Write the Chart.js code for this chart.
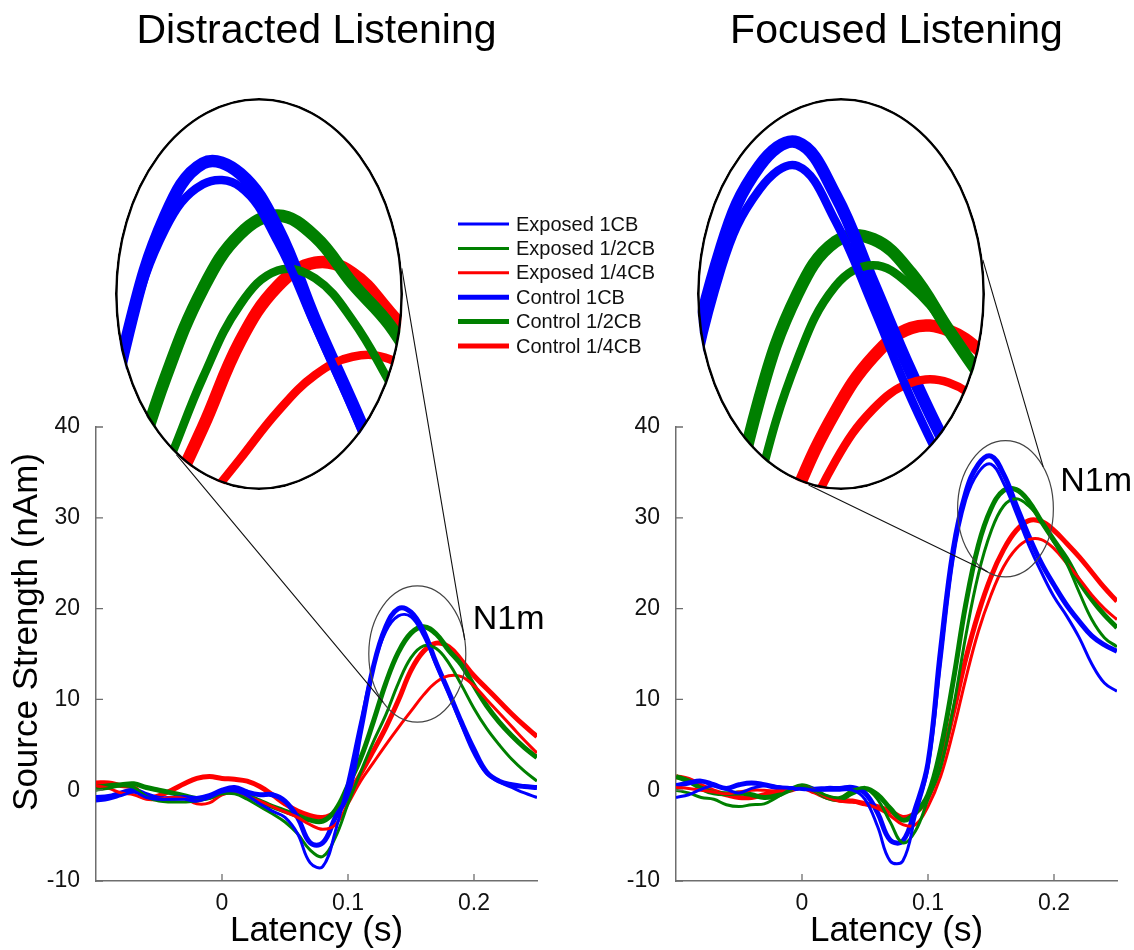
<!DOCTYPE html>
<html>
<head>
<meta charset="utf-8">
<script src="https://cdn.jsdelivr.net/npm/chart.js@4.4.1/dist/chart.umd.min.js"></script>
<style>
  body { margin: 0; background: #fff; }
  #wrap { position: relative; width: 1134px; height: 950px; background: #fff; }
  #wrap canvas { position: absolute; }
  .inset { clip-path: ellipse(50% 50% at 50% 50%); }
</style>
</head>
<body>
<div id="wrap">
  <canvas id="leftChart" width="1134" height="950" style="left:0;top:0"></canvas>
  <canvas id="rightChart" width="1134" height="950" style="left:0;top:0"></canvas>
  <canvas id="leftInset" class="inset" width="288" height="392" style="left:115px;top:98px"></canvas>
  <canvas id="rightInset" class="inset" width="288" height="392" style="left:697px;top:98px"></canvas>
</div>
<script>
// latency in seconds, one sample every 10 ms
const latency = [-0.10, -0.09, -0.08, -0.07, -0.06, -0.05, -0.04, -0.03, -0.02, -0.01,
                 0.00, 0.01, 0.02, 0.03, 0.04, 0.05, 0.06, 0.07, 0.08, 0.09,
                 0.10, 0.11, 0.12, 0.13, 0.14, 0.15, 0.16, 0.17, 0.18, 0.19,
                 0.20, 0.21, 0.22, 0.23, 0.24, 0.25];

const xTickValues = [0, 0.1, 0.2];
const yTickStep = 10;

// Distracted listening (nAm)
const distractedExposed1CB = [-1.2, -1.0, -0.6, -0.2, -0.8, -1.0, -1.0, -1.0, -1.2, -0.8,
  -0.2, -0.1, -0.6, -1.5, -2.3, -3.0, -4.8, -8.0, -8.4, -4.5,
  1.0, 7.5, 13.5, 17.5, 19.2, 19.1, 17.0, 13.8, 10.6, 7.2,
  4.0, 1.8, 0.9, 0.3, -0.3, -0.8];
const distractedExposedHalfCB = [0.0, 0.2, 0.5, 0.3, -0.7, -1.2, -1.3, -1.3, -1.2, -0.9,
  -0.4, -0.4, -1.0, -1.8, -2.6, -3.5, -4.8, -6.6, -7.3, -5.2,
  -1.5, 2.0, 5.3, 8.3, 11.8, 14.6, 15.9, 15.6, 14.0, 11.6,
  9.0, 6.8, 5.0, 3.4, 2.1, 1.0];
const distractedExposedQuarterCB = [0.5, 0.2, -0.3, -0.5, -1.0, -1.0, -0.8, -0.9, -1.5, -1.4,
  -0.5, -0.3, -0.7, -1.2, -1.8, -2.4, -3.0, -3.8, -4.3, -3.8,
  -1.5, 1.0, 3.0, 5.0, 6.9, 8.7, 10.5, 11.9, 12.6, 12.5,
  11.5, 10.0, 8.5, 7.0, 5.5, 4.1];
const distractedControl1CB = [-0.8, -0.7, -0.3, 0.0, -0.5, -0.9, -0.9, -0.8, -0.9, -0.6,
  0.0, 0.3, -0.2, -0.5, -0.5, -1.2, -3.0, -5.8, -5.8, -3.0,
  -0.5, 6.5, 13.5, 18.0, 20.0, 19.6, 17.5, 14.0, 10.8, 7.5,
  4.5, 2.0, 1.0, 0.6, 0.4, 0.3];
const distractedControlHalfCB = [0.3, 0.5, 0.6, 0.7, 0.3, 0.0, -0.3, -0.6, -0.9, -0.8,
  -0.3, -0.2, -0.6, -1.2, -1.8, -2.3, -2.8, -3.3, -3.4, -2.2,
  0.5, 3.5, 7.5, 11.8, 15.2, 17.3, 18.0, 17.2, 15.4, 13.8,
  11.5, 9.3, 7.5, 6.0, 4.7, 3.6];
const distractedControlQuarterCB = [0.8, 0.8, 0.5, 0.3, -0.8, -0.6, 0.0, 0.7, 1.3, 1.5,
  1.3, 1.2, 1.0, 0.4, -0.5, -1.5, -2.3, -2.8, -3.0, -2.4,
  -0.5, 1.8, 4.3, 6.9, 9.9, 13.2, 15.3, 16.2, 15.8, 14.3,
  12.6, 11.2, 9.8, 8.4, 7.1, 5.9];

// Focused listening (nAm)
const focusedExposed1CB = [-0.8, -0.5, 0.1, 0.5, 0.1, -0.3, 0.2, 0.5, 0.4, 0.2,
  0.2, 0.0, 0.0, 0.0, 0.0, -1.0, -4.0, -7.8, -7.8, -2.8,
  2.5, 14.0, 25.5, 32.0, 35.0, 35.9, 33.8, 30.5, 27.0, 24.0,
  21.3, 19.2, 16.8, 13.9, 11.8, 10.9];
const focusedExposedHalfCB = [0.0, -0.3, -0.8, -1.0, -1.6, -1.8, -1.6, -1.5, -0.8, 0.0,
  0.4, 0.0, -0.6, -0.8, 0.0, 0.2, -1.0, -3.5, -5.8, -4.5,
  -1.0, 2.5, 9.0, 17.0, 23.8, 28.5, 31.3, 32.1, 31.3, 29.6,
  27.3, 25.0, 21.8, 18.8, 16.8, 15.8];
const focusedExposedQuarterCB = [0.3, 0.2, 0.0, -0.2, -0.4, -0.2, 0.0, 0.0, -0.1, 0.0,
  0.4, 0.0, -0.8, -1.2, -1.3, -1.5, -2.0, -2.8, -3.8, -3.8,
  -1.8, 1.5, 6.5, 12.3, 17.5, 21.5, 24.6, 26.6, 27.6, 27.6,
  26.6, 25.0, 23.3, 21.5, 20.0, 18.8];
const focusedControl1CB = [0.5, 0.8, 1.0, 0.6, 0.2, 0.6, 0.8, 0.6, 0.3, 0.2,
  0.2, 0.1, 0.2, 0.2, 0.3, -0.3, -2.5, -5.5, -5.6, -2.0,
  3.0, 15.5, 26.5, 32.8, 35.9, 36.8, 34.8, 31.4, 28.0, 25.0,
  22.6, 20.4, 18.6, 17.0, 16.0, 15.3];
const focusedControlHalfCB = [1.5, 1.0, 0.2, -0.3, -0.4, -0.3, -0.5, -0.8, -0.6, 0.0,
  0.5, 0.0, -0.8, -1.0, -0.3, 0.2, -0.5, -2.0, -3.3, -2.5,
  -0.5, 4.5, 12.0, 20.5, 27.0, 31.0, 33.0, 33.1, 31.8, 29.6,
  27.5, 25.5, 23.0, 21.0, 19.3, 17.9];
const focusedControlQuarterCB = [1.5, 1.2, 0.5, -0.1, -0.5, -0.8, -0.8, -0.5, -0.2, 0.0,
  0.3, -0.2, -0.8, -1.1, -1.2, -1.5, -1.8, -2.3, -3.0, -2.5,
  -0.8, 3.0, 8.5, 14.5, 19.5, 23.5, 26.5, 28.6, 29.7, 29.6,
  28.6, 27.2, 25.7, 24.0, 22.3, 20.8];

const seriesLabels = ['Exposed 1CB', 'Exposed 1/2CB', 'Exposed 1/4CB', 'Control 1CB', 'Control 1/2CB', 'Control 1/4CB'];
const seriesColors = ['#0000ff', '#008000', '#ff0000', '#0000ff', '#008000', '#ff0000'];
const mainWidths = [3, 3, 3, 5, 5, 5];
const insetWidths = [8.5, 8.5, 8.5, 12.5, 12.5, 12.5];

const distracted = [distractedExposed1CB, distractedExposedHalfCB, distractedExposedQuarterCB,
                    distractedControl1CB, distractedControlHalfCB, distractedControlQuarterCB];
const focused = [focusedExposed1CB, focusedExposedHalfCB, focusedExposedQuarterCB,
                 focusedControl1CB, focusedControlHalfCB, focusedControlQuarterCB];

const FONT = "'Liberation Sans', Arial, Helvetica, sans-serif";
const axisColor = '#6e6e6e';

// zoom regions (data units) and where their magnified copy sits (pixels)
const leftPanel = {
  title: 'Distracted Listening',
  yTitle: 'Source Strength (nAm)',
  zoom: { x: 0.155, y: 15.0, rx: 0.0385, ry: 7.5 },
  big: { cx: 259, cy: 294, rx: 144, ry: 196 },
  links: [[125, 135], [-7.5, -12]],
  n1m: { x: 0.199, y: 17.8 },
  legend: true
};
const rightPanel = {
  title: 'Focused Listening',
  yTitle: null,
  zoom: { x: 0.1615, y: 31.0, rx: 0.038, ry: 7.5 },
  big: { cx: 841, cy: 294, rx: 144, ry: 196 },
  links: [[103, 112], [-10, -38]],
  n1m: { x: 0.205, y: 32.9 },
  legend: false
};

function toDatasets(seriesList, widths) {
  return seriesList.map((vals, i) => ({
    label: seriesLabels[i],
    data: latency.map((t, k) => ({ x: t, y: vals[k] })),
    borderColor: seriesColors[i],
    borderWidth: widths[i],
    pointRadius: 0,
    tension: 0.4,
    fill: false
  }));
}

// MATLAB style ticks pointing into the plot
const inwardTicks = {
  id: 'inwardTicks',
  afterDraw(chart) {
    const { ctx, chartArea, scales: { x, y } } = chart;
    ctx.save();
    ctx.strokeStyle = axisColor;
    ctx.lineWidth = 1.3;
    ctx.beginPath();
    x.ticks.forEach(t => {
      const px = x.getPixelForValue(t.value);
      ctx.moveTo(px, chartArea.bottom);
      ctx.lineTo(px, chartArea.bottom - 7);
    });
    y.ticks.forEach(t => {
      const py = y.getPixelForValue(t.value);
      ctx.moveTo(chartArea.left, py);
      ctx.lineTo(chartArea.left + 7, py);
    });
    ctx.stroke();
    ctx.restore();
  }
};

function decorPlugin(panel) {
  return {
    id: 'decor',
    afterDraw(chart) {
      const { ctx, chartArea, scales: { x, y } } = chart;
      ctx.save();
      // title
      ctx.fillStyle = '#000';
      ctx.font = '41px ' + FONT;
      ctx.textAlign = 'center';
      ctx.textBaseline = 'alphabetic';
      ctx.fillText(panel.title, (chartArea.left + chartArea.right) / 2, 43);

      // y axis title, a bit above the axis centre as in the original
      if (panel.yTitle) {
        ctx.save();
        ctx.translate(27, 632);
        ctx.rotate(-Math.PI / 2);
        ctx.font = '35px ' + FONT;
        ctx.textBaseline = 'middle';
        ctx.fillText(panel.yTitle, 0, 0);
        ctx.restore();
      }

      // small ellipse round the N1m peak
      const z = panel.zoom;
      const scx = x.getPixelForValue(z.x);
      const scy = y.getPixelForValue(z.y);
      const srx = x.getPixelForValue(z.x + z.rx) - scx;
      const sry = scy - y.getPixelForValue(z.y + z.ry);
      ctx.strokeStyle = '#444';
      ctx.lineWidth = 1.2;
      ctx.beginPath();
      ctx.ellipse(scx, scy, srx, sry, 0, 0, Math.PI * 2);
      ctx.stroke();

      // lines to the magnified view
      const b = panel.big;
      ctx.strokeStyle = '#111';
      ctx.lineWidth = 1.1;
      ctx.beginPath();
      panel.links.forEach(([aBig, aSmall]) => {
        const ab = aBig * Math.PI / 180, as = aSmall * Math.PI / 180;
        ctx.moveTo(b.cx + b.rx * Math.cos(ab), b.cy + b.ry * Math.sin(ab));
        ctx.lineTo(scx + srx * Math.cos(as), scy + sry * Math.sin(as));
      });
      ctx.stroke();

      // N1m label
      ctx.font = '34px ' + FONT;
      ctx.textAlign = 'left';
      ctx.fillText('N1m', x.getPixelForValue(panel.n1m.x), y.getPixelForValue(panel.n1m.y));

      // legend
      if (panel.legend) {
        ctx.font = '20px ' + FONT;
        ctx.textBaseline = 'middle';
        chart.data.datasets.forEach((ds, i) => {
          const ry = 224 + i * 24.4;
          ctx.strokeStyle = ds.borderColor;
          ctx.lineWidth = ds.borderWidth;
          ctx.beginPath();
          ctx.moveTo(458, ry);
          ctx.lineTo(509, ry);
          ctx.stroke();
          ctx.fillStyle = '#111';
          ctx.fillText(ds.label, 516, ry + 1);
        });
      }
      ctx.restore();
    }
  };
}

function mainChart(id, seriesList, panel, pad) {
  return new Chart(document.getElementById(id), {
    type: 'line',
    data: { datasets: toDatasets(seriesList, mainWidths) },
    options: {
      responsive: false,
      animation: false,
      layout: { padding: pad },
      plugins: { legend: { display: false }, tooltip: { enabled: false } },
      scales: {
        x: {
          type: 'linear', min: -0.1, max: 0.25,
          afterBuildTicks: s => { s.ticks = xTickValues.map(v => ({ value: v })); },
          afterFit: s => { s.height = 69; },
          grid: { display: false },
          border: { display: true, color: axisColor, width: 1.5 },
          ticks: { font: { family: FONT, size: 23 }, color: '#111', padding: 1, maxRotation: 0,
                   callback: v => String(v) },
          title: { display: true, text: 'Latency (s)', color: '#000',
                   font: { family: FONT, size: 35, lineHeight: 1.05 }, padding: { top: 0, bottom: 0 } }
        },
        y: {
          type: 'linear', min: -10, max: 40,
          afterFit: s => { s.width = 96; },
          grid: { display: false },
          border: { display: true, color: axisColor, width: 1.5 },
          ticks: { stepSize: yTickStep, font: { family: FONT, size: 23 }, color: '#111', padding: 8 }
        }
      }
    },
    plugins: [inwardTicks, decorPlugin(panel)]
  });
}

const insetFrame = {
  id: 'insetFrame',
  beforeDraw(chart) {
    const { ctx, width, height } = chart;
    ctx.save();
    ctx.fillStyle = '#fff';
    ctx.fillRect(0, 0, width, height);
    ctx.restore();
  },
  afterDraw(chart) {
    const { ctx, width, height } = chart;
    ctx.save();
    ctx.strokeStyle = '#000';
    ctx.lineWidth = 2.6;
    ctx.beginPath();
    ctx.ellipse(width / 2, height / 2, width / 2 - 1.3, height / 2 - 1.3, 0, 0, Math.PI * 2);
    ctx.stroke();
    ctx.restore();
  }
};

function insetChart(id, seriesList, panel) {
  const z = panel.zoom;
  return new Chart(document.getElementById(id), {
    type: 'line',
    data: { datasets: toDatasets(seriesList, insetWidths) },
    options: {
      responsive: false,
      animation: false,
      layout: { padding: 0 },
      plugins: { legend: { display: false }, tooltip: { enabled: false } },
      scales: {
        x: { type: 'linear', display: false, min: z.x - z.rx, max: z.x + z.rx },
        y: { type: 'linear', display: false, min: z.y - z.ry, max: z.y + z.ry }
      }
    },
    plugins: [insetFrame]
  });
}

mainChart('leftChart', distracted, leftPanel, { left: 0, top: 427, right: 597, bottom: 0 });
mainChart('rightChart', focused, rightPanel, { left: 580, top: 427, right: 17, bottom: 0 });
insetChart('leftInset', distracted, leftPanel);
insetChart('rightInset', focused, rightPanel);
</script>
</body>
</html>
